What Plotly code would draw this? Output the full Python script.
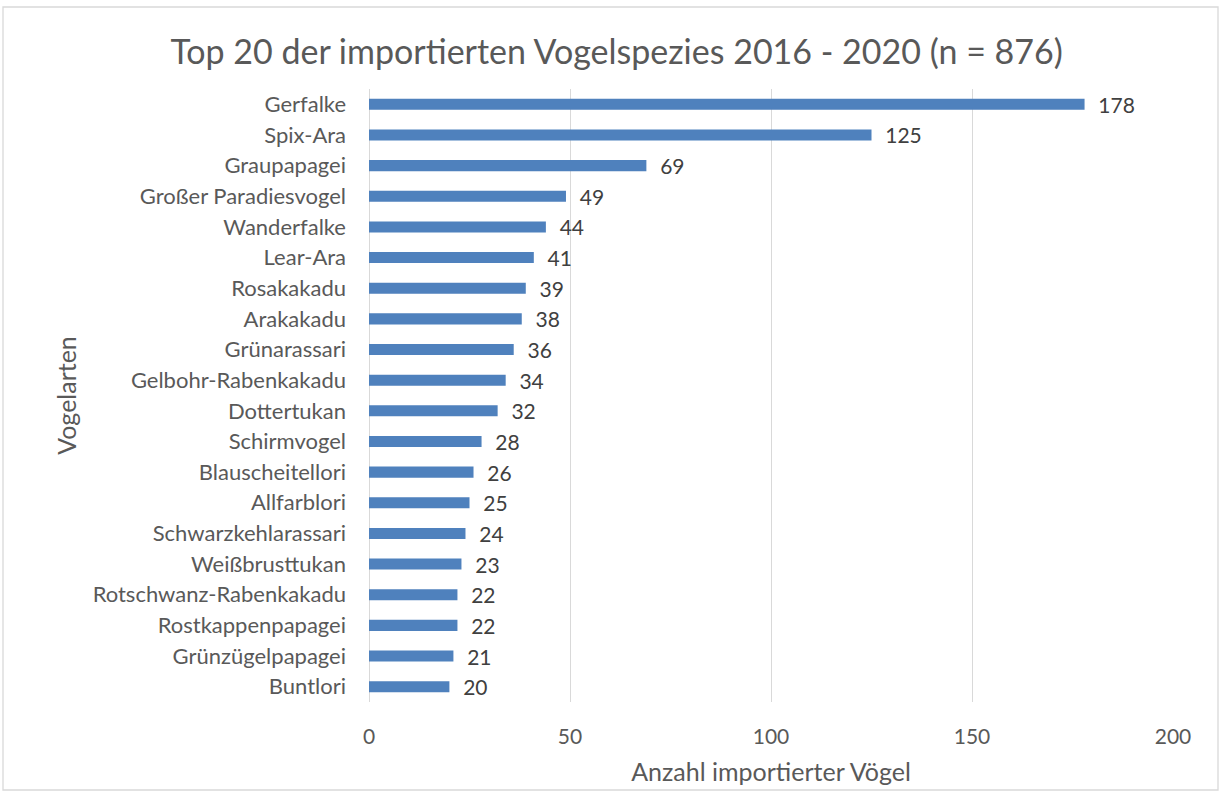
import plotly.graph_objects as go

species = ["Gerfalke", "Spix-Ara", "Graupapagei", "Großer Paradiesvogel", "Wanderfalke",
           "Lear-Ara", "Rosakakadu", "Arakakadu", "Grünarassari", "Gelbohr-Rabenkakadu",
           "Dottertukan", "Schirmvogel", "Blauscheitellori", "Allfarblori",
           "Schwarzkehlarassari", "Weißbrusttukan", "Rotschwanz-Rabenkakadu",
           "Rostkappenpapagei", "Grünzügelpapagei", "Buntlori"]
counts = [178, 125, 69, 49, 44, 41, 39, 38, 36, 34, 32, 28, 26, 25, 24, 23, 22, 22, 21, 20]
x_ticks = [0, 50, 100, 150, 200]

FONT = "Lato, Open Sans, sans-serif"

fig = go.Figure(go.Bar(
    y=species, x=counts, orientation="h",
    marker=dict(color="#4F81BD", line=dict(width=0)),
    text=[f"  {c}" for c in counts], textposition="outside",
    textfont=dict(color="#404040", size=21, family=FONT),
    constraintext="none",
    cliponaxis=False,
))

fig.update_layout(
    width=1221, height=794,
    margin=dict(l=369, r=48, t=89, b=92),
    paper_bgcolor="white", plot_bgcolor="white",
    bargap=0.64,
    showlegend=False,
    title=dict(text="Top 20 der importierten Vogelspezies 2016 - 2020 (n = 876)",
               xref="container", x=0.505, xanchor="center", y=0.935, yanchor="middle",
               font=dict(family=FONT, size=34, color="#595959")),
    font=dict(family=FONT, color="#595959"),
)

fig.update_xaxes(range=[0, 200], tickvals=x_ticks, showgrid=True, gridcolor="#D9D9D9",
                 gridwidth=1.3, zeroline=True, zerolinecolor="#D9D9D9", zerolinewidth=1.3,
                 showline=False, tickfont=dict(size=21, color="#595959", family=FONT),
                 ticklabelstandoff=20,
                 title=dict(text="Anzahl importierter Vögel", standoff=16,
                            font=dict(size=25, color="#595959", family=FONT)))
fig.update_yaxes(categoryorder="array", categoryarray=species[::-1], autorange=True,
                 showgrid=False, showline=False,
                 tickfont=dict(size=22, color="#595959", family=FONT),
                 ticklabelstandoff=22,
                 title=dict(text="Vogelarten", standoff=8,
                            font=dict(size=25, color="#595959", family=FONT)))

fig.add_shape(type="rect", xref="paper", yref="paper",
              x0=(3 - 369) / 804, x1=(1218 - 369) / 804,
              y0=(702 - 790) / 613, y1=(702 - 7) / 613,
              line=dict(color="#D9D9D9", width=1.3), fillcolor="rgba(0,0,0,0)", layer="below")

fig.write_html("out.html", config={"displayModeBar": False},
               post_script="document.body.style.margin='0';")
